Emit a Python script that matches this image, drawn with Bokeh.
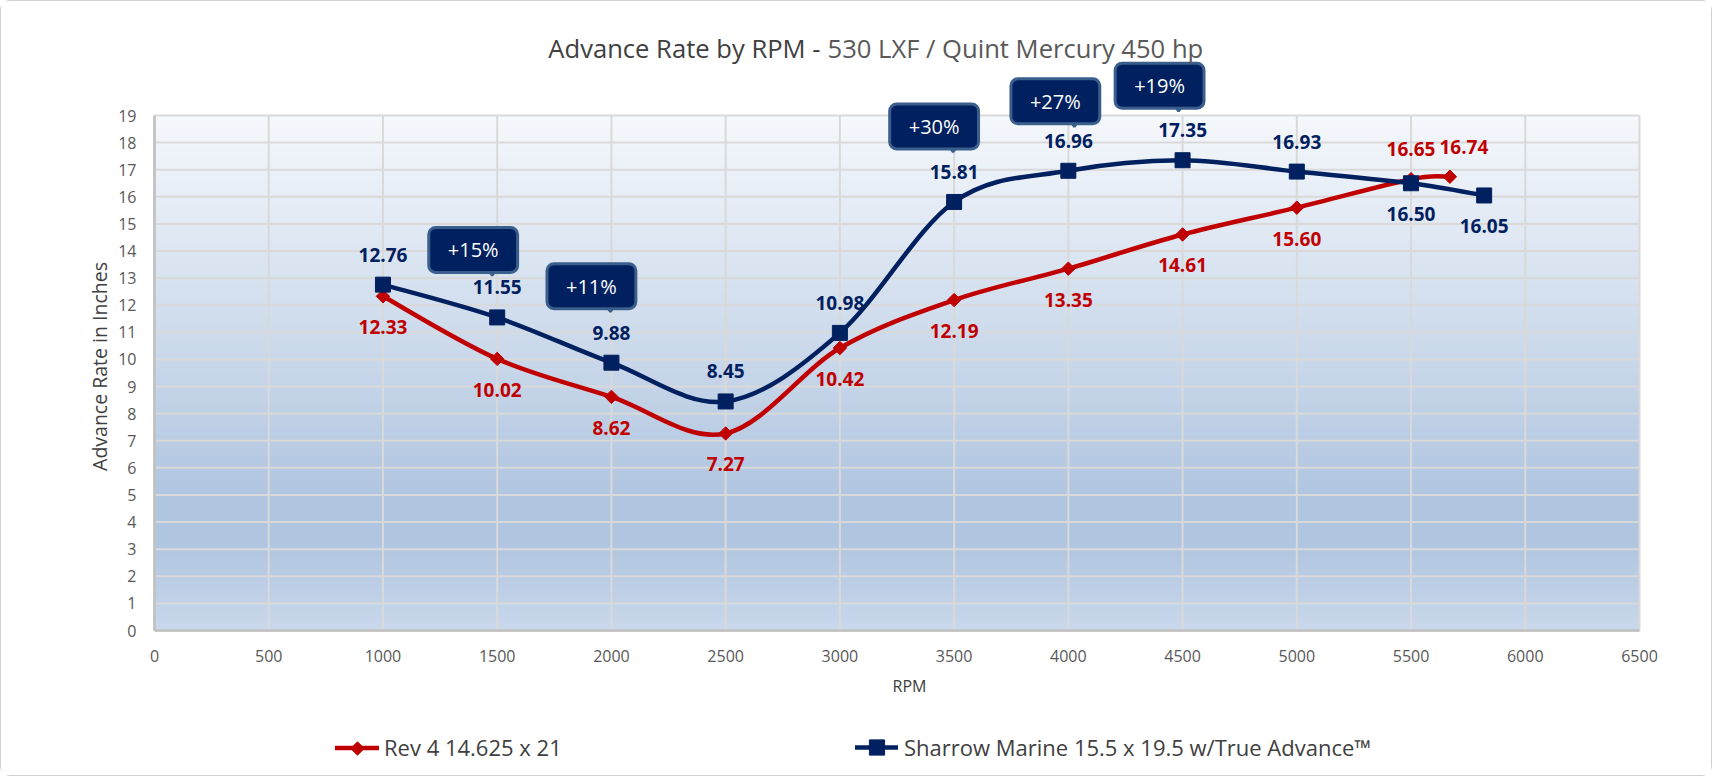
import numpy as np
from bokeh.plotting import figure
from bokeh.models import (FixedTicker, Label, Legend, LegendItem, Range1d,
                          PolyAnnotation, ColumnDataSource)
from bokeh.core.properties import value
from bokeh.embed import file_html
from bokeh.resources import INLINE

# ---------------- data ----------------
title_part1 = "Advance Rate by RPM -"
title_part2 = "530 LXF / Quint Mercury 450 hp"
x_title = "RPM"
y_title = "Advance Rate in Inches"

rev4_name = "Rev 4 14.625 x 21"
rev4_rpm = [1000, 1500, 2000, 2500, 3000, 3500, 4000, 4500, 5000, 5500, 5670]
rev4_adv = [12.33, 10.02, 8.62, 7.27, 10.42, 12.19, 13.35, 14.61, 15.60, 16.65, 16.74]

sharrow_name = "Sharrow Marine 15.5 x 19.5 w/True Advance\u2122"
sharrow_rpm = [1000, 1500, 2000, 2500, 3000, 3500, 4000, 4500, 5000, 5500, 5820]
sharrow_adv = [12.76, 11.55, 9.88, 8.45, 10.98, 15.81, 16.96, 17.35, 16.93, 16.50, 16.05]

callout_rpm = [1500, 2000, 3500, 4000, 4500]
callout_text = ["+15%", "+11%", "+30%", "+27%", "+19%"]

x_ticks = list(range(0, 7000, 500))
y_ticks = list(range(0, 20))

# ---------------- style / layout ----------------
RED = "#C00000"
NAVY = "#002060"
CALLOUT_EDGE = "#3b5f8c"
W, H = 1712, 776
XMAX, YMAX = 6500, 19
PL, PR, PT, PB = 153, 1638, 114, 629          # plot area in canvas pixels
SX = (PR - PL) / XMAX
SY = (PB - PT) / YMAX

rev4_label_pos = ["below"] * 9 + ["above", "above"]
sharrow_label_pos = ["above"] * 9 + ["below", "below"]
rev4_label_dx = [0] * 10 + [14]
callout_box_dx = [-24, -20, -20, -13, -23]     # box centre vs. point, px
callout_tip_dy = [42, 51, 50, 44, 49]          # pointer tip above point, px

FONT = "Open Sans"


def fx(px):
    return (px - PL) / SX


def fy(py):
    return YMAX - (py - PT) / SY


p = figure(width=W, height=H, output_backend="svg", toolbar_location=None,
           x_range=Range1d(fx(0), fx(W)), y_range=Range1d(fy(H), fy(0)),
           min_border_left=0, min_border_right=0, min_border_top=0,
           min_border_bottom=0)
p.outline_line_color = None
p.border_fill_color = "white"
p.background_fill_color = "white"
p.styles = {"border": "1px solid #d0d0d0", "border-radius": "10px"}
p.grid.visible = False

# gradient background of the plot area
stops_y = [0.0, 3.23, 4.94, 19.0]
stops_r = [201, 176, 176, 245]
stops_g = [216, 197, 197, 248]
stops_b = [235, 224, 224, 252]
n_strips = 150
edges = np.linspace(0, YMAX, n_strips + 1)
mids = (edges[:-1] + edges[1:]) / 2
cols = ["#%02x%02x%02x" % (int(round(np.interp(m, stops_y, stops_r))),
                           int(round(np.interp(m, stops_y, stops_g))),
                           int(round(np.interp(m, stops_y, stops_b)))) for m in mids]
tops = np.minimum(edges[1:] + 0.06, YMAX)
p.quad(left=0, right=XMAX, bottom=edges[:-1], top=tops, fill_color=cols,
       line_color=None)

# grid lines
p.segment(x0=x_ticks, y0=0, x1=x_ticks, y1=YMAX, line_color="#d9d9d9", line_width=2)
p.segment(x0=0, y0=y_ticks, x1=XMAX, y1=y_ticks, line_color="#d9d9d9", line_width=2)

# axes (drawn at the data origin)
p.xaxis.ticker = FixedTicker(ticks=x_ticks)
p.yaxis.ticker = FixedTicker(ticks=y_ticks)
p.xaxis.fixed_location = 0
p.yaxis.fixed_location = 0
p.xaxis.bounds = (0, XMAX)
p.yaxis.bounds = (0, YMAX)
for ax in (p.xaxis[0], p.yaxis[0]):
    ax.major_tick_out = 0
    ax.major_tick_in = 0
    ax.minor_tick_out = 0
    ax.minor_tick_in = 0
    ax.axis_line_color = "#bfbfbf"
    ax.axis_line_width = 2.5
    ax.major_label_text_font = FONT
    ax.major_label_text_font_size = "16px"
    ax.major_label_text_color = "#595959"
p.xaxis.major_label_standoff = 19
p.yaxis.major_label_standoff = 18


def smooth_segments(xs, ys):
    P = np.column_stack([xs, ys]).astype(float)
    n = len(P)
    keys = ("x0", "y0", "x1", "y1", "cx0", "cy0", "cx1", "cy1")
    seg = {k: [] for k in keys}
    for i in range(n - 1):
        p0 = P[i - 1] if i > 0 else P[i]
        p1, p2 = P[i], P[i + 1]
        p3 = P[i + 2] if i + 2 < n else P[i + 1]
        c1 = p1 + (p2 - p0) / 6.0
        c2 = p2 - (p3 - p1) / 6.0
        for k, v in zip(keys, (p1[0], p1[1], p2[0], p2[1], c1[0], c1[1], c2[0], c2[1])):
            seg[k].append(v)
    return ColumnDataSource(seg)


bz = dict(x0="x0", y0="y0", x1="x1", y1="y1", cx0="cx0", cy0="cy0", cx1="cx1", cy1="cy1")
# Rev 4 series
rl = p.bezier(**bz, source=smooth_segments(rev4_rpm, rev4_adv),
              line_color=RED, line_width=4.5, line_cap="round")
rm = p.scatter(rev4_rpm, rev4_adv, marker="square", angle=np.pi / 4, size=9.5,
               fill_color=RED, line_color=RED)
# Sharrow series
bl = p.bezier(**bz, source=smooth_segments(sharrow_rpm, sharrow_adv),
              line_color=NAVY, line_width=4.5, line_cap="round")
bm = p.scatter(sharrow_rpm, sharrow_adv, marker="square", size=15,
               fill_color=NAVY, line_color=NAVY)


def add_labels(xs, ys, pos, dxs, color):
    src = ColumnDataSource(dict(
        x=xs, y=ys, t=["%.2f" % v for v in ys],
        dy=[-30 if q == "above" else 31 for q in pos], dx=dxs))
    p.text(x="x", y="y", text="t", source=src, x_offset="dx", y_offset="dy",
           text_font=value(FONT), text_font_size="19px", text_font_style="bold",
           text_color=color, text_align="center", text_baseline="middle")


add_labels(rev4_rpm, rev4_adv, rev4_label_pos, rev4_label_dx, RED)
add_labels(sharrow_rpm, sharrow_adv, sharrow_label_pos, [0] * len(sharrow_rpm), NAVY)

# callouts
lookup = dict(zip(sharrow_rpm, sharrow_adv))
for rpm, txt, bdx, tdy in zip(callout_rpm, callout_text, callout_box_dx, callout_tip_dy):
    yv = lookup[rpm]
    tip_x = rpm + (bdx + 19) / SX
    tip_y = yv + tdy / SY
    base_y = tip_y + 10 / SY
    half = 7.5 / SX
    p.add_layout(PolyAnnotation(xs=[tip_x - half, tip_x + half, tip_x],
                                ys=[base_y, base_y, tip_y],
                                fill_color=NAVY, fill_alpha=1.0,
                                line_color=CALLOUT_EDGE, line_width=2.5, line_alpha=1.0))
    p.add_layout(Label(x=rpm, y=yv, x_offset=bdx, y_offset=tdy + 25.5, text=txt,
                       text_font=FONT, text_font_size="20px", text_color="white",
                       text_align="center", text_baseline="middle",
                       background_fill_color=NAVY, background_fill_alpha=1.0,
                       border_line_color=CALLOUT_EDGE, border_line_width=3,
                       border_line_alpha=1.0, padding=(19, 9), border_radius=7))

# titles
p.add_layout(Label(x=fx(819), y=fy(47), text=title_part1, text_font=FONT,
                   text_font_size="25.6px", text_color="#404040",
                   text_align="right", text_baseline="middle"))
p.add_layout(Label(x=fx(826), y=fy(47), text=title_part2, text_font=FONT,
                   text_font_size="25.6px", text_color="#595959",
                   text_align="left", text_baseline="middle"))
p.add_layout(Label(x=fx(908), y=fy(684), text=x_title, text_font=FONT,
                   text_font_size="16px", text_color="#404040",
                   text_align="center", text_baseline="middle"))
p.add_layout(Label(x=fx(98), y=fy(365), text=y_title, text_font=FONT,
                   text_font_size="19.5px", text_color="#404040", angle=np.pi / 2,
                   text_align="center", text_baseline="middle"))

# legends
LEG_Y = 747
leg1 = Legend(items=[LegendItem(label=rev4_name, renderers=[rl])],
              location=(334, H - 761), glyph_width=44, glyph_height=23,
              label_standoff=5, padding=0, margin=0, spacing=0,
              border_line_color=None, background_fill_alpha=0,
              label_text_font=FONT, label_text_font_size="22px",
              label_text_color="#404040")
leg2 = Legend(items=[LegendItem(label=sharrow_name, renderers=[bl, bm])],
              location=(854, H - 765), glyph_width=43, glyph_height=38,
              label_standoff=6, padding=0, margin=0, spacing=0,
              border_line_color=None, background_fill_alpha=0,
              label_text_font=FONT, label_text_font_size="22px",
              label_text_color="#404040")
p.add_layout(leg1, "center")
p.add_layout(leg2, "center")
# diamond symbol of the Rev 4 legend entry
p.scatter(x=[fx(356)], y=[fy(LEG_Y)], marker="square", angle=np.pi / 4, size=9.5,
          fill_color=RED, line_color=RED, level="overlay")

open("out.html", "w").write(file_html(p, INLINE))
